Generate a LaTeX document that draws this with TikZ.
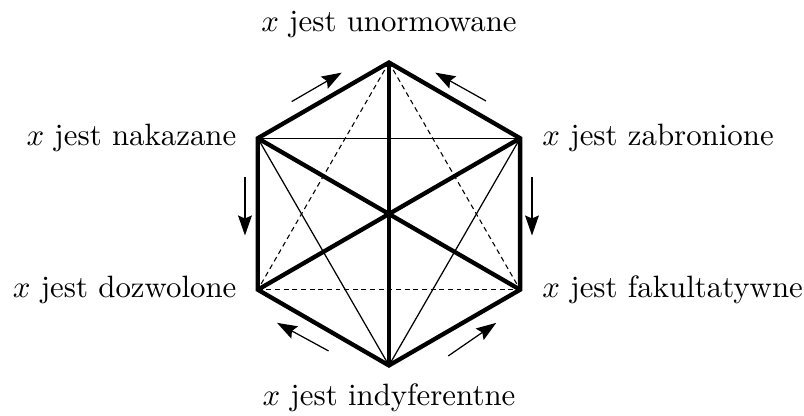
\documentclass[tikz,border=0pt]{standalone}
\usetikzlibrary{positioning,arrows.meta}
\begin{document}
\begin{tikzpicture}[x=1.0cm, y=1.0cm, scale=1,
  every node/.style={font=\normalsize},
  edge/.style={line width=1.4pt},
  thin line/.style={line width=0.4pt},
  dash line/.style={line width=0.35pt, dash pattern=on 1.6pt off 1.2pt},
  arr/.style={line width=0.4pt, -{Stealth[length=6.5pt,width=4.5pt,inset=1pt]}}]
  \useasboundingbox (-4.43,-2.30) rectangle (4.727,2.437);
  % vertices of the hexagon
  \coordinate (U) at (90:1.725); \coordinate (N) at (150:1.725); \coordinate (Z) at (30:1.725);
  \coordinate (D) at (210:1.725); \coordinate (F) at (-30:1.725); \coordinate (I) at (270:1.725);
  % labels
  \node[above=0.16cm of U] (u) {$x$ jest unormowane};
  \node[left=0.12cm of N] (n) {$x$ jest nakazane};
  \node[right=0.13cm of Z] (z) {$x$ jest zabronione};
  \node[left=0.12cm of D] (d) {$x$ jest dozwolone};
  \node[right=0.13cm of F] (f) {$x$ jest fakultatywne};
  \node[below=0.08cm of I] (i) {$x$ jest indyferentne};
  % thin and dashed lines
  \draw[thin line] (N) -- (Z); \draw[thin line] (I) -- (N); \draw[thin line] (I) -- (Z);
  \draw[dash line] (D) -- (F); \draw[dash line] (U) -- (D); \draw[dash line] (U) -- (F);
  % thick lines
  \draw[edge, line join=miter] (U) -- (Z) -- (F) -- (I) -- (D) -- (N) -- cycle;
  \draw[edge] (U) -- (I); \draw[edge] (N) -- (F); \draw[edge] (Z) -- (D);
  % arrows along the sides
  \coordinate (a1) at (-1.108,1.280); \coordinate (b1) at (-0.538,1.610);
  \coordinate (a2) at (1.105,1.287); \coordinate (b2) at (0.527,1.610);
  \coordinate (a3) at (-1.640,0.421); \coordinate (b3) at (-1.640,-0.245);
  \coordinate (a4) at (1.629,0.421); \coordinate (b4) at (1.629,-0.245);
  \coordinate (a5) at (-0.688,-1.560); \coordinate (b5) at (-1.275,-1.240);
  \coordinate (a6) at (0.675,-1.617); \coordinate (b6) at (1.222,-1.240);
  \draw[arr] (a1) -- (b1); \draw[arr] (a2) -- (b2);
  \draw[arr] (a3) -- (b3); \draw[arr] (a4) -- (b4);
  \draw[arr] (a5) -- (b5); \draw[arr] (a6) -- (b6);
\end{tikzpicture}
\end{document}
